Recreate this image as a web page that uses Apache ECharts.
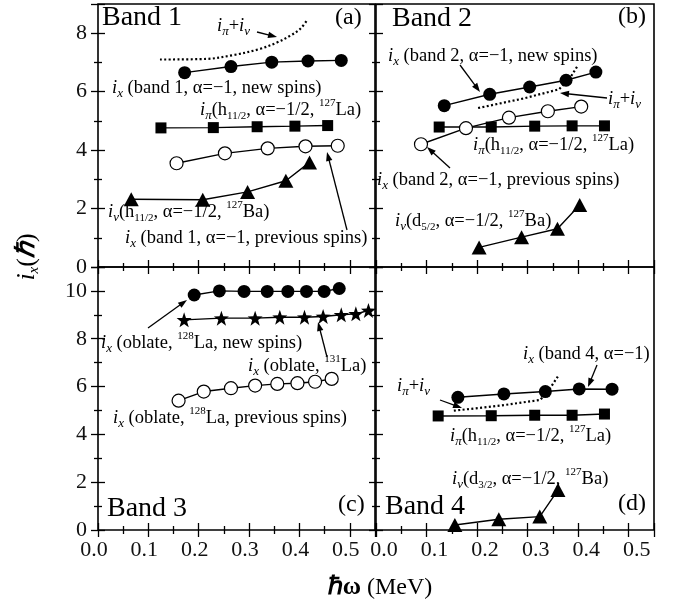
<!DOCTYPE html>
<html><head><meta charset="utf-8">
<script src="https://cdn.jsdelivr.net/npm/echarts@6/dist/echarts.min.js"></script>
<style>html,body{margin:0;padding:0;background:#fff}#c{width:680px;height:603px}</style>
</head><body><div id="c"></div>
<script>
// ---------- axis ranges / ticks ----------
const xMin = 0, xMax = 0.55, xStep = 0.1;
const xTickLabels = ['0.0','0.1','0.2','0.3','0.4','0.5'];
const yTopMax = 9, yBotMax = 11, yStep = 2;
const yTopTickLabels = ['0','2','4','6','8'];
const yBotTickLabels = ['0','2','4','6','8','10'];

// ---------- panel (a) Band 1 ----------
const a_ixNew  = [[0.172,6.65],[0.264,6.86],[0.345,7.01],[0.417,7.05],[0.483,7.07]];
const a_ixPrev = [[0.156,3.55],[0.252,3.89],[0.337,4.06],[0.412,4.13],[0.476,4.15]];
const a_iPi    = [[0.125,4.76],[0.229,4.77],[0.316,4.80],[0.391,4.82],[0.456,4.84]];
const a_iNu    = [[0.066,2.32],[0.208,2.30],[0.297,2.57],[0.373,2.95],[0.420,3.58]];
const a_sum    = [[0.123,7.10],[0.215,7.12],[0.268,7.25],[0.321,7.46],[0.355,7.68],[0.381,7.91],[0.401,8.14],[0.414,8.42]];

// ---------- panel (b) Band 2 ----------
const b_ixNew  = [[0.135,5.52],[0.225,5.91],[0.304,6.16],[0.376,6.39],[0.435,6.67]];
const b_ixPrev = [[0.089,4.20],[0.178,4.75],[0.263,5.11],[0.340,5.33],[0.406,5.49]];
const b_iPi    = [[0.125,4.79],[0.228,4.79],[0.314,4.82],[0.388,4.83],[0.452,4.83]];
const b_iNu    = [[0.204,0.67],[0.288,1.02],[0.359,1.31],[0.403,2.12]];
const b_sum    = [[0.202,5.44],[0.290,5.76],[0.362,6.08],[0.385,6.50],[0.398,6.86]];

// ---------- panel (c) Band 3 ----------
const c_ixNew  = [[0.191,9.83],[0.241,10.0],[0.290,9.98],[0.336,9.98],[0.377,9.98],[0.414,9.98],[0.449,9.98],[0.479,10.1]];
const c_ix131  = [[0.171,8.79],[0.245,8.86],[0.312,8.86],[0.361,8.90],[0.410,8.90],[0.447,8.93],[0.483,9.00],[0.512,9.04],[0.537,9.18]];
const c_ixPrev = [[0.160,5.41],[0.210,5.79],[0.264,5.93],[0.312,6.04],[0.356,6.11],[0.396,6.14],[0.431,6.20],[0.464,6.32]];

// ---------- panel (d) Band 4 ----------
const d_ix     = [[0.162,5.55],[0.253,5.69],[0.335,5.79],[0.402,5.90],[0.467,5.89]];
const d_iPi    = [[0.123,4.77],[0.228,4.78],[0.314,4.80],[0.388,4.80],[0.452,4.85]];
const d_iNu    = [[0.156,0.21],[0.243,0.45],[0.324,0.56],[0.360,1.67]];
const d_sum    = [[0.154,4.99],[0.245,5.20],[0.325,5.44],[0.345,5.95],[0.362,6.49]];

// ---------- styling ----------
const F = "'Liberation Serif','Times New Roman',serif";
const grids = [
  {left:98,  top:4,   width:277, height:263},
  {left:376, top:4,   width:278, height:263},
  {left:98,  top:267, width:277, height:263},
  {left:376, top:267, width:278, height:263}
].map(g => Object.assign({show:true, borderColor:'#000', borderWidth:1.6, backgroundColor:'transparent', containLabel:false, outerBoundsMode:'none'}, g));

const tickStyle = {color:'#000', width:1.3};
function xAxisFor(gi, pos, showLabel, padding) {
  return {
    type:'value', gridIndex:gi, position:pos, min:xMin, max:xMax, interval:xStep,
    axisLine:{show:false}, splitLine:{show:false},
    axisTick:{show:true, inside:true, length:7, lineStyle:tickStyle},
    minorTick:{show:true, splitNumber:2, length:4, lineStyle:tickStyle},
    axisLabel:{show:showLabel, showMaxLabel:false, showMinLabel:true, hideOverlap:false,
      fontFamily:F, fontSize:22, color:'#111', margin:9, padding:padding,
      formatter: v => { const k = Math.round(v / xStep); return (Math.abs(v - k * xStep) < 1e-6 && k < xTickLabels.length) ? xTickLabels[k] : ''; }}
  };
}
function yAxisFor(gi, pos, showLabel, maxV, labels) {
  return {
    type:'value', gridIndex:gi, position:pos, min:0, max:maxV, interval:yStep,
    axisLine:{show:false}, splitLine:{show:false},
    axisTick:{show:true, inside:true, length:7, lineStyle:tickStyle},
    minorTick:{show:true, splitNumber:2, length:4, lineStyle:tickStyle},
    axisLabel:{show:showLabel, showMaxLabel:false, showMinLabel:true, hideOverlap:false,
      fontFamily:F, fontSize:22, color:'#111', margin:11,
      formatter: v => { const k = Math.round(v / yStep); return (Math.abs(v - k * yStep) < 1e-6 && k < labels.length) ? labels[k] : ''; }}
  };
}
const xAxes = [], yAxes = [];
[0,1,2,3].forEach(gi => {
  const bottomRow = gi >= 2, leftCol = gi % 2 === 0;
  xAxes.push(xAxisFor(gi, 'bottom', bottomRow, leftCol ? [0,8,0,0] : [0,0,0,16]));
  xAxes.push(xAxisFor(gi, 'top', false));
  const mx = gi < 2 ? yTopMax : yBotMax, lb = gi < 2 ? yTopTickLabels : yBotTickLabels;
  yAxes.push(yAxisFor(gi, 'left', leftCol, mx, lb));
  yAxes.push(yAxisFor(gi, 'right', false, mx, lb));
});

const STAR = 'path://M0,-10L2.35,-3.24L9.51,-3.09L3.8,1.24L5.88,8.09L0,4L-5.88,8.09L-3.8,1.24L-9.51,-3.09L-2.35,-3.24Z';
const MK = {
  fc:  {symbol:'circle', symbolSize:13, itemStyle:{color:'#000'}},
  oc:  {symbol:'circle', symbolSize:13, itemStyle:{color:'#fff', borderColor:'#000', borderWidth:1.2}},
  sq:  {symbol:'rect', symbolSize:11, itemStyle:{color:'#000'}},
  tr:  {symbol:'triangle', symbolSize:[15,14], itemStyle:{color:'#000'}},
  st:  {symbol:STAR, symbolSize:15, itemStyle:{color:'#000'}}
};
function lineS(data, gi, mk) {
  return Object.assign({type:'line', data, xAxisIndex:2*gi, yAxisIndex:2*gi, showSymbol:true,
    lineStyle:{color:'#000', width:1.4}, z:3, animation:false}, MK[mk]);
}
function dotS(data, gi, smooth) {
  return {type:'line', data, xAxisIndex:2*gi, yAxisIndex:2*gi, showSymbol:false, symbol:'none', smooth:smooth,
    lineStyle:{color:'#000', width:2.2, type:[2,2.4]}, z:2, animation:false};
}
const series = [
  dotS(a_sum,0,0.35), lineS(a_iPi,0,'sq'), lineS(a_ixPrev,0,'oc'), lineS(a_iNu,0,'tr'), lineS(a_ixNew,0,'fc'),
  dotS(b_sum,1,false), lineS(b_iPi,1,'sq'), lineS(b_ixPrev,1,'oc'), lineS(b_iNu,1,'tr'), lineS(b_ixNew,1,'fc'),
  lineS(c_ix131,2,'st'), lineS(c_ixPrev,2,'oc'), lineS(c_ixNew,2,'fc'),
  dotS(d_sum,3,false), lineS(d_iPi,3,'sq'), lineS(d_iNu,3,'tr'), lineS(d_ix,3,'fc')
];

// ---------- annotations ----------
const R = {
  n:{fontFamily:F, fontSize:18.5, lineHeight:24, fill:'#000'},
  i:{fontFamily:F, fontSize:18.5, fontStyle:'italic', lineHeight:24, fill:'#000'},
  s:{fontFamily:F, fontSize:13, fontStyle:'italic', lineHeight:14, verticalAlign:'bottom', fill:'#000'},
  sn:{fontFamily:F, fontSize:11, lineHeight:13, verticalAlign:'bottom', fill:'#000'},
  p:{fontFamily:F, fontSize:11, lineHeight:14, verticalAlign:'top', fill:'#000'}
};
function txt(x, y, text) {
  return {type:'text', x, y, z:50, silent:true, style:{text, rich:R, align:'left', verticalAlign:'middle', fill:'#000'}};
}
function big(x, y, text, size) {
  return {type:'text', x, y, z:50, silent:true, style:{text, fontFamily:F, fontSize:size, align:'left', verticalAlign:'middle', fill:'#000'}};
}
function arrow(x1,y1,x2,y2){
  const dx=x2-x1, dy=y2-y1, L=Math.hypot(dx,dy), ux=dx/L, uy=dy/L, hl=9, hw=3.2;
  const bx=x2-ux*hl, by=y2-uy*hl;
  return [
    {type:'line', z:50, silent:true, shape:{x1,y1,x2:bx+ux*2,y2:by+uy*2}, style:{stroke:'#000', lineWidth:1.3}},
    {type:'polygon', z:50, silent:true, shape:{points:[[x2,y2],[bx-uy*hw,by+ux*hw],[bx+uy*hw,by-ux*hw]]}, style:{fill:'#000'}}
  ];
}
const SUM = '{i|i}{s|π}{n|+}{i|i}{s|ν}';
const graphics = [
  big(102,18,'Band 1',28), big(392,19,'Band 2',28), big(107,509,'Band 3',28), big(385,507,'Band 4',28),
  big(335,18,'(a)',24), big(618,17,'(b)',24), big(338,505,'(c)',24), big(618,504,'(d)',24),
  // (a)
  txt(217,26,SUM),
  txt(112,88,'{i|i}{s|x}{n| (band 1, α=−1, new spins)}'),
  txt(200,110,'{i|i}{s|π}{n|(h}{sn|11/2}{n|, α=−1/2, }{p|127}{n|La)}'),
  txt(108,212,'{i|i}{s|ν}{n|(h}{sn|11/2}{n|, α=−1/2, }{p|127}{n|Ba)}'),
  txt(125,238,'{i|i}{s|x}{n| (band 1, α=−1, previous spins)}'),
  // (b)
  txt(388,56,'{i|i}{s|x}{n| (band 2, α=−1, new spins)}'),
  txt(608,99,SUM),
  txt(473,145,'{i|i}{s|π}{n|(h}{sn|11/2}{n|, α=−1/2, }{p|127}{n|La)}'),
  txt(377,180,'{i|i}{s|x}{n| (band 2, α=−1, previous spins)}'),
  txt(395,221,'{i|i}{s|ν}{n|(d}{sn|5/2}{n|, α=−1/2, }{p|127}{n|Ba)}'),
  // (c)
  txt(101,343,'{i|i}{s|x}{n| (oblate, }{p|128}{n|La, new spins)}'),
  txt(248,366,'{i|i}{s|x}{n| (oblate, }{p|131}{n|La)}'),
  txt(113,418,'{i|i}{s|x}{n| (oblate, }{p|128}{n|La, previous spins)}'),
  // (d)
  txt(523,354,'{i|i}{s|x}{n| (band 4, α=−1)}'),
  txt(397,386,SUM),
  txt(450,436,'{i|i}{s|π}{n|(h}{sn|11/2}{n|, α=−1/2, }{p|127}{n|La)}'),
  txt(452,479,'{i|i}{s|ν}{n|(d}{sn|3/2}{n|, α=−1/2, }{p|127}{n|Ba)}'),
  ...arrow(257,32,277,37),
  ...arrow(347,230,327,152),
  ...arrow(460,65,480,92),
  ...arrow(607,98,560,93),
  ...arrow(450,168,427,147),
  ...arrow(148,328,187,300),
  ...arrow(327,357,318,322),
  ...arrow(597,365,588,387),
  ...arrow(440,400,462,408),
  // axis titles
  {type:'text', x:380, y:588, z:50, silent:true, style:{text:'{b|ℏω}{n| (MeV)}', align:'center', verticalAlign:'middle',
    rich:{b:{fontFamily:F, fontSize:25, fontWeight:'bold', fill:'#000'}, n:{fontFamily:F, fontSize:24, fill:'#000'}}}},
  {type:'text', x:27, y:257, rotation:Math.PI/2, z:50, silent:true, style:{text:'{i|i}{s|x}{n|(}{b|ℏ}{n|)}', align:'center', verticalAlign:'middle',
    rich:{i:{fontFamily:F, fontSize:26, fontStyle:'italic', lineHeight:30, fill:'#000'},
          s:{fontFamily:F, fontSize:15, fontStyle:'italic', lineHeight:16, verticalAlign:'bottom', fill:'#000'},
          n:{fontFamily:F, fontSize:26, lineHeight:30, fill:'#000'},
          b:{fontFamily:F, fontSize:26, fontWeight:'bold', fontStyle:'italic', lineHeight:30, fill:'#000'}}}}
];

const chart = echarts.init(document.getElementById('c'), null, {renderer:'canvas'});
chart.setOption({
  animation:false,
  backgroundColor:'#fff',
  grid: grids,
  xAxis: xAxes,
  yAxis: yAxes,
  series,
  graphic: graphics
});
</script>
</body></html>
